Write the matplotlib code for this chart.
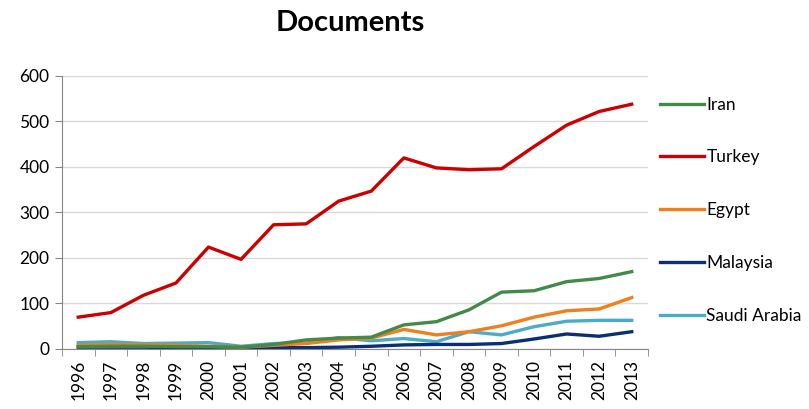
import numpy as np
import matplotlib.pyplot as plt

plt.rcParams['font.family'] = ['Lato', 'DejaVu Sans']

years = [str(y) for y in range(1996, 2014)]
iran = [5, 6, 6, 5, 5, 4, 10, 20, 24, 26, 53, 60, 86, 125, 128, 148, 155, 170]
turkey = [70, 80, 118, 145, 224, 197, 273, 275, 325, 347, 420, 398, 394, 396, 445, 492, 522, 538]
egypt = [8, 10, 9, 8, 6, 4, 8, 12, 20, 24, 43, 31, 38, 51, 70, 84, 88, 113]
malaysia = [4, 4, 4, 3, 2, 2, 3, 3, 4, 6, 9, 10, 10, 12, 22, 33, 28, 38]
saudi = [14, 16, 12, 13, 14, 6, 12, 13, 25, 18, 23, 16, 38, 31, 49, 61, 63, 63]

series = [
    ('Iran', iran, '#43894A'),
    ('Turkey', turkey, '#CC0000'),
    ('Egypt', egypt, '#F07F1E'),
    ('Malaysia', malaysia, '#0B2F74'),
    ('Saudi Arabia', saudi, '#4BACC6'),
]

fig = plt.figure(figsize=(8.09, 4.09), dpi=100)
ax = fig.add_axes([0.0766, 0.1467, 0.7244, 0.6675])

x = np.arange(len(years))
# draw in reverse so Iran/Turkey end up on top
for name, vals, col in series[::-1]:
    ax.plot(x, vals, color=col, lw=2.4, label=name, solid_joinstyle='round')

ax.set_ylim(0, 600)
ax.set_yticks(range(0, 601, 100))
ax.set_xlim(-0.5, len(years) - 0.5)
ax.set_xticks(x)
ax.set_xticklabels(years, rotation=90)
ax.set_xticks(np.arange(-0.5, len(years), 1), minor=True)
ax.tick_params(axis='x', which='major', length=0, pad=8, labelsize=12.5, colors='black')
ax.tick_params(axis='x', which='minor', length=5, color='#868686')
ax.tick_params(axis='y', length=5, color='#868686', labelsize=12.5, pad=4)

ax.grid(axis='y', color='#D9D9D9', lw=1)
ax.set_axisbelow(True)
for s in ['top', 'right']:
    ax.spines[s].set_visible(False)
ax.spines['left'].set_color('#868686')
ax.spines['bottom'].set_color('#868686')

handles, labels = ax.get_legend_handles_labels()
order = [labels.index(n) for n, _, _ in series]
fig.legend([handles[i] for i in order], [labels[i] for i in order],
           loc='upper left', bbox_to_anchor=(0.797, 0.802), frameon=False,
           fontsize=12.5, labelspacing=2.12, handlelength=2.5, handletextpad=0.15)

fig.suptitle('Documents', fontsize=21, fontweight='bold', x=0.433, y=0.975)

fig.savefig('out.png', dpi=100)
